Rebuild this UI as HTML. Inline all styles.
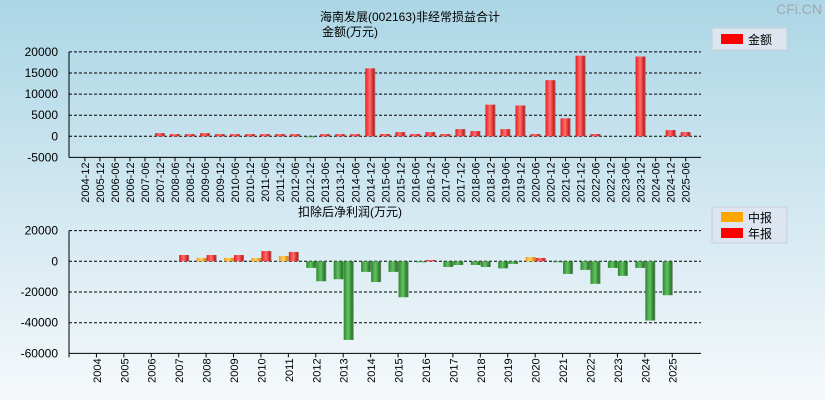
<!DOCTYPE html>
<html><head><meta charset="utf-8">
<style>
html,body{margin:0;padding:0;}
body{width:825px;height:400px;overflow:hidden;font-family:"Liberation Sans","Noto Sans CJK SC",sans-serif;}
svg text{font-family:"Liberation Sans","Noto Sans CJK SC",sans-serif;}
</style></head>
<body>
<svg id="c" width="825" height="400" xmlns="http://www.w3.org/2000/svg">
<defs>
<linearGradient id="bg" x1="0" y1="0" x2="0" y2="1"><stop offset="0" stop-color="#acd6e6"/><stop offset="1" stop-color="#f6f9fb"/></linearGradient>
<linearGradient id="gr" x1="0" x2="1"><stop offset="0" stop-color="#e81c1c"/><stop offset="0.45" stop-color="#ff7070"/><stop offset="0.85" stop-color="#d01818"/><stop offset="1" stop-color="#888"/></linearGradient>
<linearGradient id="gg" x1="0" x2="1"><stop offset="0" stop-color="#2a8a2a"/><stop offset="0.45" stop-color="#66c066"/><stop offset="0.85" stop-color="#237a23"/><stop offset="1" stop-color="#888"/></linearGradient>
<linearGradient id="go" x1="0" x2="1"><stop offset="0" stop-color="#f0a010"/><stop offset="0.45" stop-color="#ffd070"/><stop offset="0.85" stop-color="#e09000"/><stop offset="1" stop-color="#999"/></linearGradient>
</defs>
<rect width="825" height="400" fill="url(#bg)"/>
<text x="822" y="14" text-anchor="end" font-size="14" fill="#a0a8b0">CFi.CN</text>
<text x="410" y="21" text-anchor="middle" font-size="12" fill="#000">海南发展(002163)非经常损益合计</text>
<text x="350" y="36" text-anchor="middle" font-size="12" fill="#000">金额(万元)</text>
<text x="350" y="216" text-anchor="middle" font-size="12" fill="#000">扣除后净利润(万元)</text>
<g>
<rect x="712" y="28" width="75" height="22" fill="#dde6f0" stroke="#c8d0d8"/>
<rect x="721" y="34" width="22" height="10" fill="#f00"/>
<text x="748" y="44" font-size="12">金额</text>
</g>
<g>
<rect x="712" y="207" width="75" height="36" fill="#dde6f0" stroke="#c8d0d8"/>
<rect x="721" y="212" width="22" height="10" fill="#ffa500"/>
<text x="748" y="222" font-size="12">中报</text>
<rect x="721" y="228" width="22" height="10" fill="#f00"/>
<text x="748" y="238" font-size="12">年报</text>
</g>
<g id="top"></g>
<g id="bot"></g>
</svg>
<script>
const topCats=["2004-12","2005-12","2006-06","2006-12","2007-06","2007-12","2008-06","2008-12","2009-06","2009-12","2010-06","2010-12","2011-06","2011-12","2012-06","2012-12","2013-06","2013-12","2014-06","2014-12","2015-06","2015-12","2016-06","2016-12","2017-06","2017-12","2018-06","2018-12","2019-06","2019-12","2020-06","2020-12","2021-06","2021-12","2022-06","2022-12","2023-06","2023-12","2024-06","2024-12","2025-06"];
const topVals=[null,null,null,null,null,750,520,520,750,520,520,520,520,520,520,-200,520,520,520,16100,540,1000,540,1000,540,1700,1240,7500,1700,7300,540,13300,4260,19100,540,null,null,18900,null,1470,1000];
const topTicks=[20000,15000,10000,5000,0,-5000];
const years=["2004","2005","2006","2007","2008","2009","2010","2011","2012","2013","2014","2015","2016","2017","2018","2019","2020","2021","2022","2023","2024","2025"];
const midVals=[null,null,null,null,2170,2170,2170,3500,-4300,-11700,-6900,-6900,-650,-3700,-2400,-4600,2800,-430,-5600,-4300,-4300,-22100];
const annVals=[null,null,null,4100,4100,4100,6700,6100,-13000,-51200,-13500,-23400,870,-2400,-3700,-1700,2170,-8200,-14700,-9500,-38600,null];
const botTicks=[20000,0,-20000,-40000,-60000];
const NS="http://www.w3.org/2000/svg";
function mk(p,tag,attrs){const e=document.createElementNS(NS,tag);for(const k in attrs)e.setAttribute(k,attrs[k]);p.appendChild(e);return e;}
const X0=69,X1=701;
const tg=document.getElementById('top');
const tY=v=>136.3-(v/5000)*21.1;
const tX=i=>84.9+15.02*i;
topTicks.forEach(t=>{
 const y=tY(t);
 if(t!==-5000){const l=mk(tg,'line',{x1:X0,x2:X1,y1:y,y2:y,stroke:'#000','stroke-dasharray':'3,2','stroke-width':1});
 
 }
 const tx=mk(tg,'text',{x:58,y:y+4,'text-anchor':'end','font-size':12});tx.textContent=t;
 
 
});
mk(tg,'line',{x1:X0,x2:X0,y1:tY(20000),y2:tY(-5000),stroke:'#000'});
mk(tg,'line',{x1:X0,x2:X1,y1:tY(-5000),y2:tY(-5000),stroke:'#000'});
topCats.forEach((c,i)=>{
 const x=tX(i);
 mk(tg,'line',{x1:x,x2:x,y1:tY(-5000),y2:tY(-5000)+4,stroke:'#000'});
 const t=mk(tg,'text',{x:0,y:0,'font-size':11,'text-anchor':'end',transform:`translate(${x+4},${tY(-5000)+5}) rotate(-90)`});t.textContent=c;
 
 
 const v=topVals[i];
 if(v!==null){
  const y0=tY(0),y1=tY(v);
  const r=mk(tg,'rect',{x:x-5,width:10,y:Math.min(y0,y1),height:Math.max(1,Math.abs(y1-y0)),fill:v>=0?'url(#gr)':'url(#gg)'});
  
  
 }
});
const bg=document.getElementById('bot');
const bY=v=>261.3-(v/20000)*30.7;
const bX=i=>96.9+27.42*i;
botTicks.forEach(t=>{
 const y=bY(t);
 if(t!==-60000){const l=mk(bg,'line',{x1:X0,x2:X1,y1:y,y2:y,stroke:'#000','stroke-dasharray':'3,2'});
 
 }
 const tx=mk(bg,'text',{x:58,y:y+4,'text-anchor':'end','font-size':12});tx.textContent=t;
 
 
});
mk(bg,'line',{x1:X0,x2:X0,y1:bY(20000),y2:bY(-60000),stroke:'#000'});
mk(bg,'line',{x1:X0,x2:X1,y1:bY(-60000),y2:bY(-60000),stroke:'#000'});
for(let i=0;i<=years.length;i++){const x=X0+27.42*i;mk(bg,'line',{x1:x,x2:x,y1:bY(-60000),y2:bY(-60000)+4,stroke:'#000'});}
years.forEach((yr,i)=>{
 const x=bX(i);
 const t=mk(bg,'text',{x:0,y:0,'font-size':11,'text-anchor':'end',transform:`translate(${x+4},${bY(-60000)+5}) rotate(-90)`});t.textContent=yr;
 
 
 const m=midVals[i];
 if(m!==null){const y0=bY(0),y1=bY(m);
  const r=mk(bg,'rect',{x:x-10,width:10,y:Math.min(y0,y1),height:Math.max(1,Math.abs(y1-y0)),fill:m>=0?'url(#go)':'url(#gg)'});
  
  }
 const a=annVals[i];
 if(a!==null){const y0=bY(0),y1=bY(a);
  const r=mk(bg,'rect',{x:x,width:10,y:Math.min(y0,y1),height:Math.max(1,Math.abs(y1-y0)),fill:a>=0?'url(#gr)':'url(#gg)'});
  
  }
});
</script>
</body></html>
